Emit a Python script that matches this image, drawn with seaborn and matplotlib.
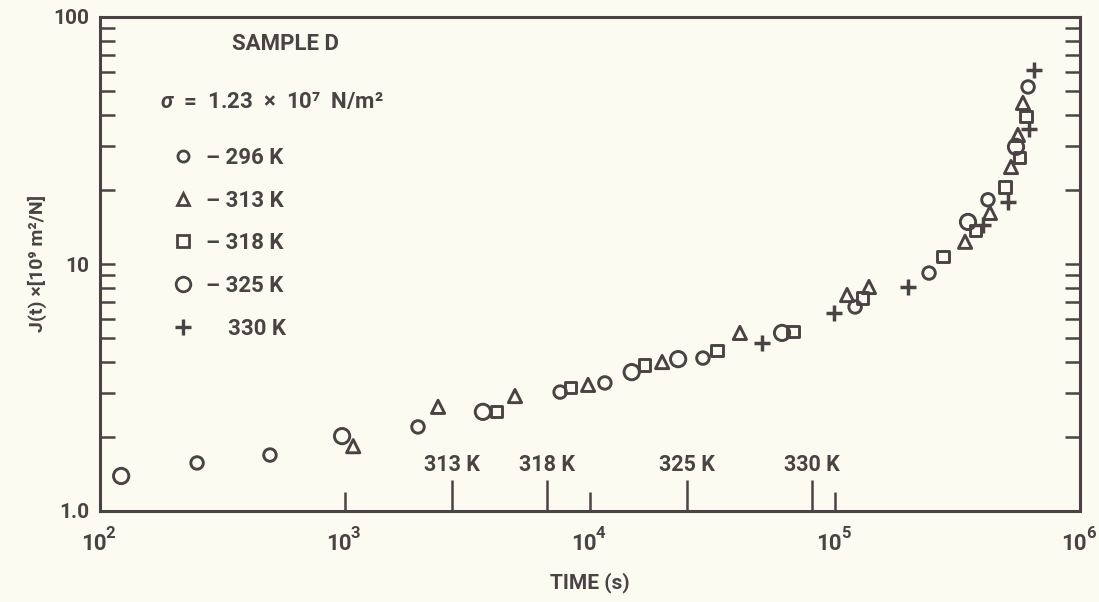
import matplotlib
matplotlib.use("Agg")
import matplotlib.pyplot as plt
import matplotlib.ticker as mticker
from matplotlib.lines import Line2D
from matplotlib.transforms import ScaledTranslation
import seaborn as sns
import numpy as np

# creep compliance J(t) of sample D, grouped by test temperature
t_296 = [249, 494, 1986, 7550, 11500, 28900, 120800, 242000, 421000, 614000]
j_296 = [1.565, 1.685, 2.19, 3.03, 3.30, 4.16, 6.70, 9.19, 18.2, 52.1]

t_313 = [1080, 2398, 4940, 9820, 19700, 40900, 112000, 137600, 339600, 429000, 523000, 558000, 585000]
j_313 = [1.83, 2.64, 2.92, 3.24, 4.01, 5.26, 7.49, 8.07, 12.3, 16.1, 24.7, 33.3, 44.9]

t_318 = [4170, 8360, 16700, 33000, 67400, 130000, 276000, 373000, 494000, 564000, 602000]
j_318 = [2.52, 3.15, 3.90, 4.48, 5.35, 7.28, 10.7, 13.7, 20.5, 26.9, 39.4]

t_325 = [122, 973, 3655, 14800, 22900, 60800, 349000, 548000]
j_325 = [1.386, 2.01, 2.52, 3.65, 4.12, 5.26, 14.8, 29.8]

t_330 = [50300, 99100, 198600, 402000, 508000, 620000, 649000]
j_330 = [4.79, 6.33, 8.07, 14.4, 17.8, 35.2, 61.0]

# times at which the temperature steps are marked on the time axis
step_times = [2735, 6670, 24900, 80500]
step_labels = ["313 K", "318 K", "325 K", "330 K"]

x_decades = [1e2, 1e3, 1e4, 1e5, 1e6]
x_exponents = ["2", "3", "4", "5", "6"]
y_tick_labels = ["1.0", "10", "100"]
legend_labels = ["\u2013 296 K", "\u2013 313 K", "\u2013 318 K", "\u2013 325 K", "    330 K"]

INK = "#4b4243"
PAPER = "#fbfbf2"
FONT = ["Roboto", "DejaVu Sans"]

sns.set_theme(style="ticks")
plt.rcParams["font.family"] = FONT
plt.rcParams["font.weight"] = "bold"
plt.rcParams["axes.labelweight"] = "bold"
plt.rcParams["mathtext.fontset"] = "custom"
plt.rcParams["mathtext.rm"] = "Roboto:bold"
plt.rcParams["mathtext.it"] = "Roboto:italic:bold"
plt.rcParams["mathtext.bf"] = "Roboto:bold"
plt.rcParams["text.color"] = INK

fig = plt.figure(figsize=(10.99, 6.02), dpi=100, facecolor=PAPER)
ax = fig.add_axes([100 / 1099, 91 / 602, 980 / 1099, 494 / 602])
ax.set_facecolor(PAPER)
ax.set_xscale("log")
ax.set_yscale("log")
ax.set_xlim(1e2, 1e6)
ax.set_ylim(1.0, 100)

series = [
    (t_296, j_296, "o", 9.0),
    (t_313, j_313, "^", 9.5),
    (t_318, j_318, "s", 8.0),
    (t_325, j_325, "o", 11.0),
]
for t, j, m, ms in series:
    sns.scatterplot(x=t, y=j, marker=m, s=ms ** 2, color=INK,
                    facecolor="none", edgecolor=INK, linewidth=2.1, ax=ax, zorder=3)
sns.scatterplot(x=t_330, y=j_330, marker="+", s=11 ** 2, color=INK,
                linewidth=2.5, ax=ax, zorder=3)

# spines and ticks
for side in ["left", "right", "top", "bottom"]:
    ax.spines[side].set_visible(True)
    ax.spines[side].set_color(INK)
    ax.spines[side].set_linewidth(2.2)

ax.xaxis.set_major_locator(mticker.FixedLocator(x_decades))
ax.xaxis.set_major_formatter(mticker.FixedFormatter(["10"] * len(x_decades)))
ax.xaxis.set_minor_locator(mticker.FixedLocator(step_times))
ax.xaxis.set_minor_formatter(mticker.NullFormatter())
ax.tick_params(axis="x", which="major", direction="in", length=14, width=1.8,
               color=INK, labelcolor=INK, labelsize=16, pad=16, top=False)
ax.tick_params(axis="x", which="minor", direction="in", length=22, width=1.8,
               color=INK, top=False)
# nudge the "10" of each decade label left so that base and exponent sit centred on the tick
shift = ScaledTranslation(-4.5 / 72, 0, fig.dpi_scale_trans)
for lab in ax.get_xticklabels():
    lab.set_transform(lab.get_transform() + shift)
for dec, ex in zip(x_decades, x_exponents):
    ax.annotate(ex, xy=(dec, 0), xycoords=ax.get_xaxis_transform(),
                xytext=(4.2, -11), textcoords="offset points", ha="left", va="top",
                fontsize=12, fontweight="bold", color=INK, annotation_clip=False)

ax.yaxis.set_major_locator(mticker.FixedLocator([1, 10, 100]))
ax.yaxis.set_major_formatter(mticker.FixedFormatter(y_tick_labels))
ax.yaxis.set_minor_locator(mticker.LogLocator(base=10, subs=np.arange(2, 10)))
ax.yaxis.set_minor_formatter(mticker.NullFormatter())
ax.tick_params(axis="y", which="both", direction="in", length=11, width=1.8,
               color=INK, labelcolor=INK, labelsize=15, pad=8, right=True)
for lab in ax.get_xticklabels() + ax.get_yticklabels():
    lab.set_fontweight("bold")

ax.set_xlabel("TIME (s)", fontsize=15, color=INK, labelpad=12, fontweight="bold")
ax.set_ylabel("J(t) \u00d7[10\u2079 m\u00b2/N]", fontsize=14,
              color=INK, labelpad=4, fontweight="bold")

for tx, lab in zip(step_times, step_labels):
    ax.text(tx, 0.093, lab, transform=ax.get_xaxis_transform(),
            ha="center", va="center", fontsize=15.5, color=INK, fontweight="bold")

# legend block
ax.text(0.135, 0.945, "SAMPLE D", transform=ax.transAxes, ha="left", va="center",
        fontsize=16, color=INK, fontweight="bold")
ax.text(0.061, 0.828, "$\\sigma$  =  1.23  \u00d7  10\u2077  N/m\u00b2",
        transform=ax.transAxes, ha="left", va="center", fontsize=16, color=INK,
        fontweight="bold")

handles = [
    Line2D([], [], ls="none", marker="o", ms=8, mfc="none", mec=INK, mew=2.0),
    Line2D([], [], ls="none", marker="^", ms=8.5, mfc="none", mec=INK, mew=2.0),
    Line2D([], [], ls="none", marker="s", ms=8, mfc="none", mec=INK, mew=2.0),
    Line2D([], [], ls="none", marker="o", ms=10.5, mfc="none", mec=INK, mew=2.0),
    Line2D([], [], ls="none", marker="+", ms=11, mec=INK, mew=2.4),
]
leg = ax.legend(handles, legend_labels, loc="upper left", bbox_to_anchor=(0.071, 0.737),
                frameon=False, borderaxespad=0, borderpad=0, handlelength=1.2,
                handletextpad=0.45, labelspacing=0.93,
                prop={"family": FONT, "size": 16, "weight": "bold"})
for txt in leg.get_texts():
    txt.set_color(INK)

fig.savefig("out.png", dpi=100, facecolor=PAPER)
